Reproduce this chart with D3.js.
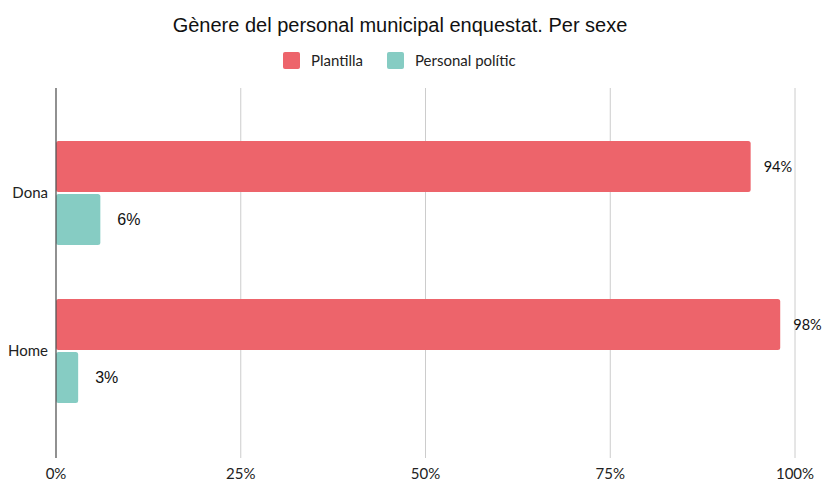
<!DOCTYPE html>
<html>
<head>
<meta charset="utf-8">
<script src="https://cdn.jsdelivr.net/npm/d3@7"></script>
<style>
  body { margin: 0; background: #fff; }
  svg { display: block; }
</style>
</head>
<body>
<svg id="chart" width="823" height="481"></svg>
<script>
// Categories and series
const categories = ["Dona", "Home"];
const seriesNames = ["Plantilla", "Personal polític"];
const plantilla = [94, 98];
const personalPolitic = [6, 3];
const tickValues = [0, 25, 50, 75, 100];

const colors = ["#ED646B", "#86CCC3"];

const svg = d3.select("#chart");

const x = d3.scaleLinear().domain([0, 100]).range([56, 795]);
const y = d3.scaleBand().domain(categories).range([113, 429]).paddingInner(0).paddingOuter(0);
const sub = d3.scaleBand().domain([0, 1]).range([28, 132]).paddingInner(0.04);

const plotTop = 88, plotBottom = 458;

// Title
svg.append("text")
  .attr("x", 400).attr("y", 32)
  .attr("text-anchor", "middle")
  .attr("font-family", "Liberation Sans, Arial, sans-serif")
  .attr("font-size", 20)
  .attr("fill", "#111")
  .text("Gènere del personal municipal enquestat. Per sexe");

// Legend
const legend = svg.append("g");
const legendItems = [{ x: 283, label: seriesNames[0], c: colors[0] }, { x: 387, label: seriesNames[1], c: colors[1] }];
legendItems.forEach(d => {
  legend.append("rect").attr("x", d.x).attr("y", 52).attr("width", 17).attr("height", 17)
    .attr("rx", 2).attr("fill", d.c);
  legend.append("text").attr("x", d.x + 28).attr("y", 66)
    .attr("font-family", "Lato, sans-serif").attr("font-size", 15).attr("fill", "#222")
    .text(d.label);
});

// Gridlines and x tick labels
const grid = svg.append("g");
tickValues.forEach(t => {
  if (t !== 0) {
    grid.append("line")
      .attr("x1", x(t)).attr("x2", x(t))
      .attr("y1", plotTop).attr("y2", plotBottom)
      .attr("stroke", "#cccccc").attr("stroke-width", 1);
  }
  grid.append("text")
    .attr("x", x(t)).attr("y", 479)
    .attr("text-anchor", "middle")
    .attr("font-family", "Lato, sans-serif").attr("font-size", 15).attr("fill", "#222")
    .text(t + "%");
});

// Bars
const data = categories.map((c, i) => ({ cat: c, values: [plantilla[i], personalPolitic[i]] }));
const groups = svg.append("g").selectAll("g").data(data).join("g");
groups.each(function(d) {
  const g = d3.select(this);
  d.values.forEach((v, s) => {
    const y0 = y(d.cat) + sub(s);
    g.append("rect")
      .attr("x", x(0)).attr("y", y0)
      .attr("width", x(v) - x(0)).attr("height", sub.bandwidth())
      .attr("rx", 2.5)
      .attr("fill", colors[s]);
    g.append("text")
      .attr("x", x(v) + (s === 0 ? 13 : 17))
      .attr("y", y0 + sub.bandwidth() / 2)
      .attr("dy", "0.35em")
      .attr("font-family", s === 0 ? "Lato, sans-serif" : "Liberation Sans, Arial, sans-serif")
      .attr("font-size", s === 0 ? 14.5 : 16)
      .attr("fill", "#111")
      .text(v + "%");
  });
  // Category label
  g.append("text")
    .attr("x", 48).attr("y", y(d.cat) + y.bandwidth() / 2 + 1)
    .attr("dy", "0.35em")
    .attr("text-anchor", "end")
    .attr("font-family", "Lato, sans-serif").attr("font-size", 15).attr("fill", "#222")
    .text(d.cat);
});

// Vertical baseline axis
svg.append("line")
  .attr("x1", x(0)).attr("x2", x(0))
  .attr("y1", plotTop).attr("y2", plotBottom)
  .attr("stroke", "#555").attr("stroke-width", 1.3);
</script>
</body>
</html>
